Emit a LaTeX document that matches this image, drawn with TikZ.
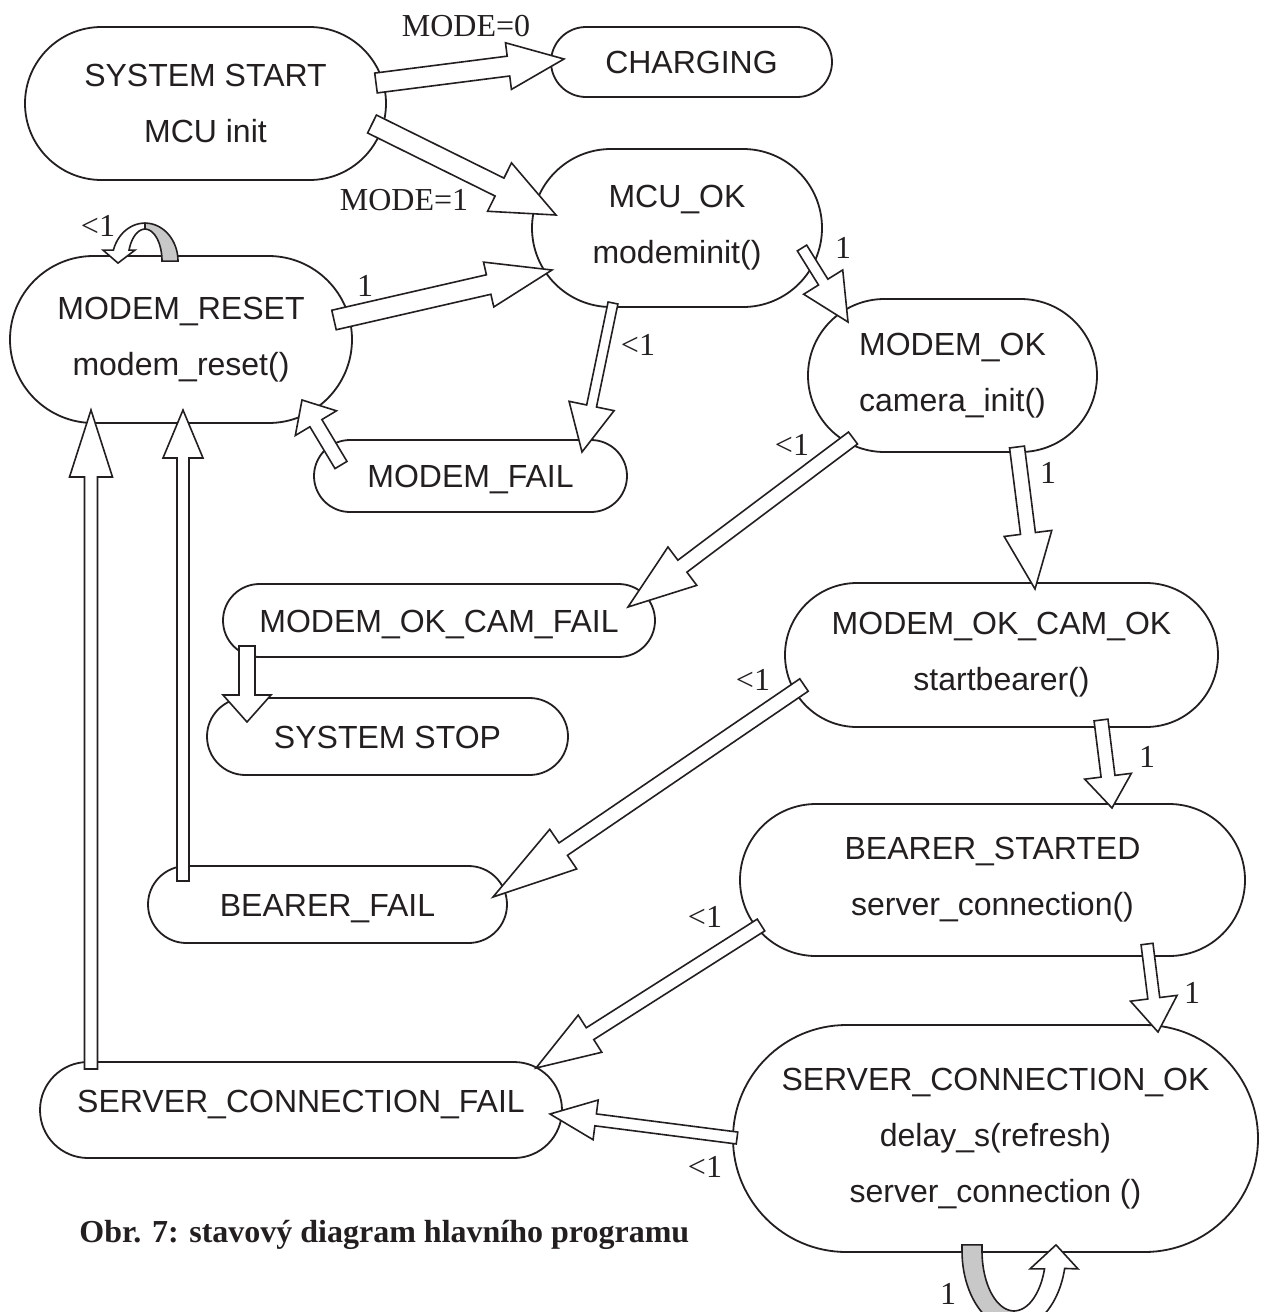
\documentclass[tikz,border=0pt]{standalone}
\usepackage{fontspec}
\setmainfont{Liberation Serif}
\newfontfamily\arialf{Liberation Sans}
\usetikzlibrary{calc,shapes.misc}
\definecolor{ink}{RGB}{35,31,32}
\definecolor{band}{RGB}{200,200,200}
% block arrow: tail, tip, half shaft, half head, head length
\newcommand{\blkarrow}[5]{%
  \path ($(#2)!#5!(#1)$) coordinate (hb);
  \draw[barrow] ($(#1)!#3!90:(#2)$) -- ($(hb)!#3!90:(#2)$) -- ($(hb)!#4!90:(#2)$) -- (#2)
     -- ($(hb)!#4!-90:(#2)$) -- ($(hb)!#3!-90:(#2)$) -- ($(#1)!#3!-90:(#2)$) -- cycle;}
\begin{document}
\begin{tikzpicture}[x=0.5pt,y=-0.5pt,
  state/.style={rounded rectangle, draw=ink, line width=0.9pt, fill=white, inner sep=0pt,
     font=\arialf\fontsize{16}{28}\selectfont, text=ink, align=center},
  single/.style={text height=11.5pt, text depth=0pt},
  barrow/.style={draw=ink, line width=0.8pt, fill=white},
  loopgrey/.style={draw=ink, line width=0.8pt, fill=band},
  lbl/.style={font=\fontsize{16}{19}\selectfont, text=ink, inner sep=0pt}]
\useasboundingbox (0,0) rectangle (1274,1312);

% states
\node[state, minimum width=180.5pt, minimum height=76.5pt] (sstart) at (205.5,103.5) {SYSTEM START\\MCU init};
\node[state, single, minimum width=140.5pt, minimum height=35pt] (charging) at (691.5,62) {CHARGING};
\node[state, minimum width=145pt, minimum height=79pt] (mcuok) at (677,228) {MCU\_OK\\modeminit()};
\node[state, minimum width=171pt, minimum height=83.5pt] (mreset) at (181,339.5) {MODEM\_RESET\\modem\_reset()};
\node[state, minimum width=144.5pt, minimum height=76.5pt] (modemok) at (952.5,375.5) {MODEM\_OK\\camera\_init()};
\node[state, single, minimum width=156.5pt, minimum height=36pt] (mfail) at (470.5,476) {MODEM\_FAIL};
\node[state, single, minimum width=216pt, minimum height=36.5pt] (camfail) at (439,620.5) {MODEM\_OK\_CAM\_FAIL};
\node[state, single, minimum width=180.5pt, minimum height=38.5pt] (sstop) at (387.5,736.5) {SYSTEM STOP};
\node[state, minimum width=216.5pt, minimum height=72pt] (camok) at (1001.5,655) {MODEM\_OK\_CAM\_OK\\startbearer()};
\node[state, minimum width=252.5pt, minimum height=76pt] (bstarted) at (992.5,880) {BEARER\_STARTED\\server\_connection()};
\node[state, single, minimum width=179.5pt, minimum height=38.5pt] (bfail) at (327.5,904.5) {BEARER\_FAIL};
\node[state, text height=11.5pt, text depth=9pt, minimum width=261pt, minimum height=48pt] (scfail) at (301,1110) {SERVER\_CONNECTION\_FAIL};
\node[state, minimum width=262.5pt, minimum height=113.5pt] (scok) at (995.5,1138.5) {SERVER\_CONNECTION\_OK\\delay\_s(refresh)\\server\_connection ()};

% connector end points
\coordinate (a1s) at ($(sstart)+(170.5,-20.5)$);  \coordinate (a1e) at ($(charging)+(-127.5,-3)$);
\coordinate (a2s) at ($(sstart)+(166.5,20.5)$);   \coordinate (a2e) at ($(mcuok)+(-121,-13)$);
\coordinate (a3s) at ($(mreset)+(153,-19.5)$);    \coordinate (a3e) at ($(mcuok)+(-125,42)$);
\coordinate (a4s) at ($(mcuok)+(125,20)$);        \coordinate (a4e) at ($(modemok)+(-104.5,-53.5)$);
\coordinate (a5s) at ($(mcuok)+(-64,75)$);        \coordinate (a5e) at ($(mfail)+(111.5,-24)$);
\coordinate (a6s) at ($(modemok)+(-99.5,62.5)$);  \coordinate (a6e) at ($(camfail)+(189,-13.5)$);
\coordinate (a7s) at ($(modemok)+(64.5,71.5)$);   \coordinate (a7e) at ($(camok)+(33.5,-66)$);
\coordinate (a8s) at ($(camfail)+(-192,25.5)$);   \coordinate (a8e) at ($(sstop)+(-140.5,-14.5)$);
\coordinate (a9s) at ($(mfail)+(-129.5,-11)$);    \coordinate (a9e) at ($(mreset)+(121,60.5)$);
\coordinate (a10s) at ($(camok)+(99.5,65)$);      \coordinate (a10e) at ($(bstarted)+(119.5,-72)$);
\coordinate (a11s) at ($(camok)+(-197.5,30)$);    \coordinate (a11e) at ($(bfail)+(165.5,-7.5)$);
\coordinate (a12s) at ($(bstarted)+(-231.5,45)$); \coordinate (a12e) at ($(scfail)+(235,-42)$);
\coordinate (a13s) at ($(scok)+(-258.5,-0.5)$);   \coordinate (a13e) at ($(scfail)+(249,4)$);
\coordinate (a14s) at ($(bstarted)+(154.5,64)$);  \coordinate (a14e) at ($(scok)+(162.5,-106.5)$);
\coordinate (a15s) at ($(bfail)+(-144.5,-23.5)$); \coordinate (a15e) at ($(mreset)+(2,70.5)$);
\coordinate (a16s) at ($(scfail)+(-210,-41)$);    \coordinate (a16e) at ($(mreset)+(-90,70.5)$);

% block arrows
\blkarrow{a1s}{a1e}{5pt}{11.75pt}{28pt}
\blkarrow{a2s}{a2e}{5pt}{13.5pt}{31.5pt}
\blkarrow{a3s}{a3e}{5pt}{11.5pt}{32.5pt}
\blkarrow{a4s}{a4e}{2.75pt}{11.5pt}{23.5pt}
\blkarrow{a5s}{a5e}{2.5pt}{11.5pt}{23.5pt}
\blkarrow{a6s}{a6e}{3.75pt}{12pt}{34pt}
\blkarrow{a7s}{a7e}{3.75pt}{12pt}{28pt}
\blkarrow{a8s}{a8e}{4pt}{12pt}{13.5pt}
\blkarrow{a9s}{a9e}{3.5pt}{12pt}{13.5pt}
\blkarrow{a10s}{a10e}{3.5pt}{11.75pt}{16pt}
\blkarrow{a11s}{a11e}{3.75pt}{12pt}{42.5pt}
\blkarrow{a12s}{a12e}{3.5pt}{11pt}{32pt}
\blkarrow{a13s}{a13e}{3pt}{10pt}{23pt}
\blkarrow{a14s}{a14e}{3pt}{11.75pt}{17pt}
\blkarrow{a15s}{a15e}{3pt}{10pt}{24pt}
\blkarrow{a16s}{a16e}{3.25pt}{10.75pt}{33.5pt}

% self loop on MODEM_RESET
\begin{scope}[shift={(mreset.north)}]
  \draw[barrow] plot[domain=-90:-163.2, samples=25] ({-36+33*cos(\x)},{6+38*sin(\x)})
     -- (-78,-5) -- (-63,8) -- (-46,-5)
     -- plot[domain=-159.9:-90, samples=25] ({-36+17*cos(\x)},{6+32*sin(\x)}) -- cycle;
  \draw[loopgrey] plot[domain=0:-90, samples=25] ({-36+33*cos(\x)},{6+38*sin(\x)})
     -- plot[domain=-90:0, samples=25] ({-36+17*cos(\x)},{6+32*sin(\x)}) -- cycle;
\end{scope}

% self loop on SERVER_CONNECTION_OK
\begin{scope}[shift={(scok.south)}]
  \draw[loopgrey] (-33.5,-8) -- plot[domain=180:90, samples=25] ({18.5+52*cos(\x)},{-2+78*sin(\x)})
     -- plot[domain=90:180, samples=25] ({18.5+32*cos(\x)},{-2+60*sin(\x)}) -- (-13.5,-8) -- cycle;
  \draw[barrow] plot[domain=90:13, samples=25] ({18.5+52*cos(\x)},{-2+78*sin(\x)})
     -- (82.5,16) -- (60.5,-8) -- (34.5,16)
     -- plot[domain=17.46:90, samples=25] ({18.5+32*cos(\x)},{-2+60*sin(\x)}) -- cycle;
\end{scope}

% labels
\node[lbl] (l1) at (466,26) {MODE=0};
\node[lbl] (l2) at (404,200) {MODE=1};
\node[lbl] (l3) at (98,226) {<1};
\node[lbl] (l4) at (365,286) {1};
\node[lbl] (l5) at (843,248) {1};
\node[lbl] (l6) at (638,345) {<1};
\node[lbl] (l7) at (792,445) {<1};
\node[lbl] (l8) at (1048,473) {1};
\node[lbl] (l9) at (753,680) {<1};
\node[lbl] (l10) at (1147,757) {1};
\node[lbl] (l11) at (705,917) {<1};
\node[lbl] (l12) at (1192,993) {1};
\node[lbl] (l13) at (705,1167) {<1};
\node[lbl] (l14) at (948,1294) {1};

% caption
\node[font=\bfseries\fontsize{16}{19}\selectfont, text=ink, anchor=base west, inner sep=0pt] (caption) at (79,1242) {Obr. 7: stavový diagram hlavního programu};
\end{tikzpicture}
\end{document}
